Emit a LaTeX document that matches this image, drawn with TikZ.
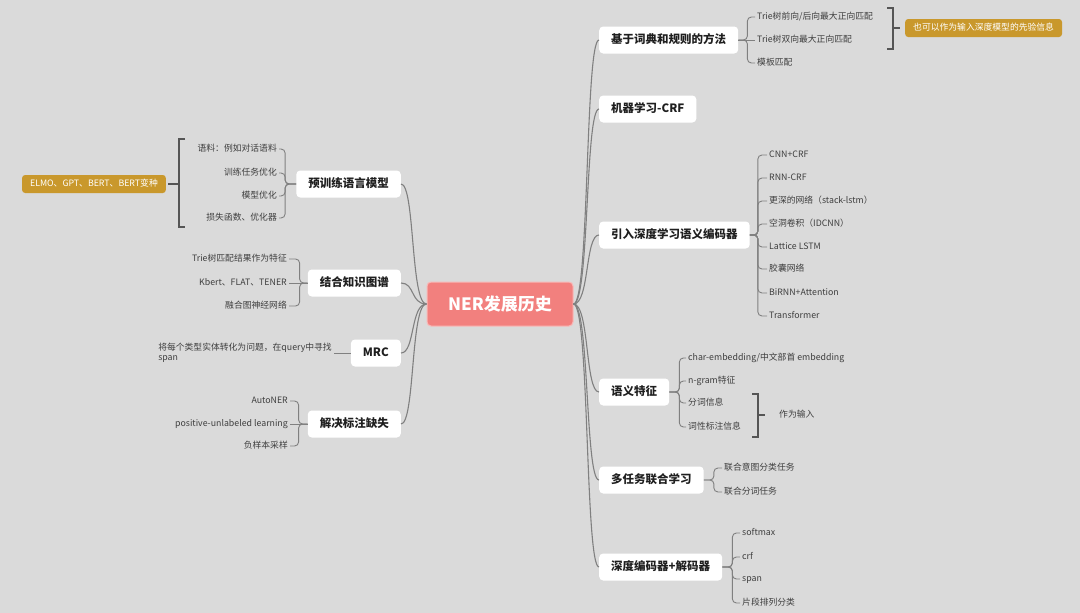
\documentclass[tikz,border=0pt]{standalone}
\usepackage{fontspec}
\setmainfont{Noto Sans CJK SC}
\usetikzlibrary{positioning}

\definecolor{bg}{RGB}{218,218,218}
\definecolor{linkgray}{RGB}{128,128,128}
\definecolor{bracegray}{RGB}{85,85,85}
\definecolor{gold}{RGB}{201,152,44}
\definecolor{salmon}{RGB}{242,128,126}
\definecolor{leafgray}{RGB}{62,62,62}

\tikzset{
  root/.style={rectangle, rounded corners=4, fill=salmon, draw=salmon!55!white, line width=1pt,
    text=white, font=\fontsize{17}{20}\selectfont\bfseries, minimum width=146, minimum height=44},
  branch/.style={rectangle, rounded corners=4, fill=white, text=black!88,
    font=\fontsize{11.5}{14}\selectfont\bfseries, inner xsep=12pt, minimum height=27,
    text height=9pt, text depth=2.5pt},
  leaf/.style={text=leafgray, font=\fontsize{8.8}{10.5}\selectfont, inner xsep=2pt, inner ysep=1pt,
    text height=7pt, text depth=2pt},
  tag/.style={rectangle, rounded corners=3, fill=gold, text=white,
    font=\fontsize{8.8}{10.5}\selectfont, inner xsep=8pt, minimum height=18,
    text height=7pt, text depth=2pt},
  trunk/.style={draw=linkgray, line width=1.1pt},
  link/.style={draw=linkgray, line width=0.9pt, rounded corners=4},
  brace/.style={draw=bracegray, line width=1.2pt}
}

\begin{document}
\begin{tikzpicture}[x=1pt, y=-1pt]
  \fill[bg] (0,0) rectangle (1080,613);

  \node [root](ner) at (500,304) {NER发展历史};

  % right branches
  \node [branch, anchor=west](kb) at (599,40) {基于词典和规则的方法};
  \node [branch, anchor=west](ml) at (599,109) {机器学习-CRF};
  \node [branch, anchor=west](enc) at (599,235) {引入深度学习语义编码器};
  \node [branch, anchor=west](sem) at (599,392) {语义特征};
  \node [branch, anchor=west](mt) at (599,480) {多任务联合学习};
  \node [branch, anchor=west](ed) at (599,567) {深度编码器+解码器};

  % left branches
  \node [branch, anchor=east](pre) at (401,184) {预训练语言模型};
  \node [branch, anchor=east](kg) at (401,283) {结合知识图谱};
  \node [branch, anchor=east](mrc) at (401,353) {MRC};
  \node [branch, anchor=east](miss) at (401,424) {解决标注缺失};

  % leaves
  \node [leaf, anchor=west](k1) at (755,17) {Trie树前向/后向最大正向匹配};
  \node [leaf, anchor=west](k2) at (755,40) {Trie树双向最大正向匹配};
  \node [leaf, anchor=west](k3) at (755,63) {模板匹配};

  \node [leaf, anchor=west](e1) at (767,155) {CNN+CRF};
  \node [leaf, anchor=west](e2) at (767,178) {RNN-CRF};
  \node [leaf, anchor=west](e3) at (767,201) {更深的网络（stack-lstm）};
  \node [leaf, anchor=west](e4) at (767,224) {空洞卷积（IDCNN）};
  \node [leaf, anchor=west](e5) at (767,247) {Lattice LSTM};
  \node [leaf, anchor=west](e6) at (767,269) {胶囊网络};
  \node [leaf, anchor=west](e7) at (767,293) {BiRNN+Attention};
  \node [leaf, anchor=west](e8) at (767,316) {Transformer};

  \node [leaf, anchor=west](s1) at (686,358) {char-embedding/中文部首 embedding};
  \node [leaf, anchor=west](s2) at (686,381) {n-gram特征};
  \node [leaf, anchor=west](s3) at (686,403) {分词信息};
  \node [leaf, anchor=west](s4) at (686,427) {词性标注信息};

  \node [leaf, anchor=west](m1) at (722,468) {联合意图分类任务};
  \node [leaf, anchor=west](m2) at (722,492) {联合分词任务};

  \node [leaf, anchor=west](d1) at (740,533) {softmax};
  \node [leaf, anchor=west](d2) at (740,557) {crf};
  \node [leaf, anchor=west](d3) at (740,579) {span};
  \node [leaf, anchor=west](d4) at (740,603) {片段排列分类};

  \node [leaf, anchor=east](p1) at (279,149) {语料：例如对话语料};
  \node [leaf, anchor=east](p2) at (279,173) {训练任务优化};
  \node [leaf, anchor=east](p3) at (279,196) {模型优化};
  \node [leaf, anchor=east](p4) at (279,218) {损失函数、优化器};

  \node [leaf, anchor=east](g1) at (289,259) {Trie树匹配结果作为特征};
  \node [leaf, anchor=east](g2) at (289,283) {Kbert、FLAT、TENER};
  \node [leaf, anchor=east](g3) at (289,306) {融合图神经网络};

  \node [leaf, anchor=east, align=left, text height=, text depth=](r1) at (334,353) {将每个类型实体转化为问题，在query中寻找\\span};

  \node [leaf, anchor=east](n1) at (290,401) {AutoNER};
  \node [leaf, anchor=east](n2) at (290,424) {positive-unlabeled learning};
  \node [leaf, anchor=east](n3) at (290,446) {负样本采样};

  % summaries
  \coordinate (kbbr) at (893,28);
  \node [tag, anchor=west](kbtag) at (905,28) {也可以作为输入深度模型的先验信息};
  \coordinate (sembr) at (758,415);
  \node [leaf, right=19pt of sembr](semtag) {作为输入};
  \coordinate (prebr) at (179,184);
  \node [tag, left=13pt of prebr](pretag) {ELMO、GPT、BERT、BERT变种};

  % trunk curves
  \draw[trunk] (ner.east) .. controls +(16,0) and +(-14,0) .. (kb.west);
  \draw[trunk] (ner.east) .. controls +(16,0) and +(-14,0) .. (ml.west);
  \draw[trunk] (ner.east) .. controls +(16,0) and +(-14,0) .. (enc.west);
  \draw[trunk] (ner.east) .. controls +(16,0) and +(-14,0) .. (sem.west);
  \draw[trunk] (ner.east) .. controls +(16,0) and +(-14,0) .. (mt.west);
  \draw[trunk] (ner.east) .. controls +(16,0) and +(-14,0) .. (ed.west);
  \draw[trunk] (ner.west) .. controls +(-16,0) and +(14,0) .. (pre.east);
  \draw[trunk] (ner.west) .. controls +(-16,0) and +(14,0) .. (kg.east);
  \draw[trunk] (ner.west) .. controls +(-16,0) and +(14,0) .. (mrc.east);
  \draw[trunk] (ner.west) .. controls +(-16,0) and +(14,0) .. (miss.east);

  % leaf links
  \draw[link] (kb.east) -- ++(9,0) |- (k1.west);
  \draw[link] (kb.east) -- (k2.west);
  \draw[link] (kb.east) -- ++(9,0) |- (k3.west);

  \draw[link] (enc.east) -- ++(8,0) |- (e1.west);
  \draw[link] (enc.east) -- ++(8,0) |- (e2.west);
  \draw[link] (enc.east) -- ++(8,0) |- (e3.west);
  \draw[link] (enc.east) -- ++(8,0) |- (e4.west);
  \draw[link] (enc.east) -- ++(8,0) |- (e5.west);
  \draw[link] (enc.east) -- ++(8,0) |- (e6.west);
  \draw[link] (enc.east) -- ++(8,0) |- (e7.west);
  \draw[link] (enc.east) -- ++(8,0) |- (e8.west);

  \draw[link] (sem.east) -- ++(10,0) |- (s1.west);
  \draw[link] (sem.east) -- ++(10,0) |- (s2.west);
  \draw[link] (sem.east) -- ++(10,0) |- (s3.west);
  \draw[link] (sem.east) -- ++(10,0) |- (s4.west);

  \draw[link] (mt.east) -- ++(10,0) |- (m1.west);
  \draw[link] (mt.east) -- ++(10,0) |- (m2.west);

  \draw[link] (ed.east) -- ++(10,0) |- (d1.west);
  \draw[link] (ed.east) -- ++(10,0) |- (d2.west);
  \draw[link] (ed.east) -- ++(10,0) |- (d3.west);
  \draw[link] (ed.east) -- ++(10,0) |- (d4.west);

  \draw[link] (pre.west) -- ++(-11,0) |- (p1.east);
  \draw[link] (pre.west) -- ++(-11,0) |- (p2.east);
  \draw[link] (pre.west) -- ++(-11,0) |- (p3.east);
  \draw[link] (pre.west) -- ++(-11,0) |- (p4.east);

  \draw[link] (kg.west) -- ++(-8,0) |- (g1.east);
  \draw[link] (kg.west) -- (g2.east);
  \draw[link] (kg.west) -- ++(-8,0) |- (g3.east);

  \draw[link] (mrc.west) -- (r1.east);

  \draw[link] (miss.west) -- ++(-9,0) |- (n1.east);
  \draw[link] (miss.west) -- (n2.east);
  \draw[link] (miss.west) -- ++(-9,0) |- (n3.east);

  % brackets
  \draw[brace] (887,8) -| (893,49) -- (887,49);
  \draw[brace, shorten >=5pt] (kbbr) -- (kbtag.west);
  \draw[brace] (752,394) -| (758,437) -- (752,437);
  \draw[brace, shorten >=12pt] (sembr) -- (semtag.west);
  \draw[brace] (185,139) -| (179,227) -- (185,227);
  \draw[brace, shorten >=2pt] (prebr) -- (pretag.east);
\end{tikzpicture}
\end{document}
